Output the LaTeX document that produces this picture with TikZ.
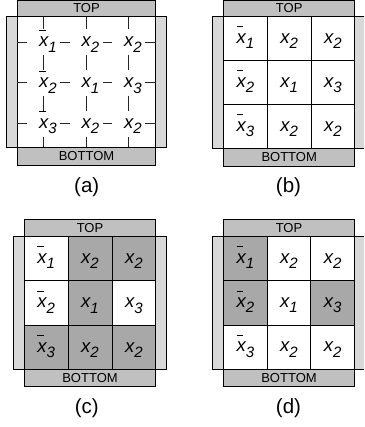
\documentclass[tikz,border=0pt]{standalone}
\usepackage{fontspec}
\setmainfont{Liberation Sans}
\definecolor{sidebar}{RGB}{216,216,216}
\definecolor{topbar}{RGB}{192,192,192}
\definecolor{shade}{RGB}{168,168,168}
\newcommand\subsz{\fontsize{15}{15}\selectfont}
\newcommand\vx[1]{{\itshape x}\smash{\raisebox{-5.3pt}{\subsz\itshape #1}}}
\newcommand\vxb[1]{\rlap{\smash{\raisebox{16.2pt}{\rule{6.5pt}{0.9pt}}}}\vx{#1}}
\newcommand\phsub[1]{\hphantom{\subsz\itshape #1}}
\newcommand\ctext[1]{\ifcase#1\or\vxb{1}\or\vx{2}\or\vx{2}\or\vxb{2}\or\vx{1}\or\vx{3}\or\vxb{3}\or\vx{2}\or\vx{2}\fi}
\newcommand\actext[1]{\ifcase#1\or\phsub{1}\vxb{1}\or\phsub{2}\vx{2}\or\phsub{2}\vx{2}\or\phsub{2}\vxb{2}\or\phsub{1}\vx{1}\or\phsub{3}\vx{3}\or\phsub{3}\vxb{3}\or\phsub{2}\vx{2}\or\phsub{2}\vx{2}\fi}
\tikzset{
  frameline/.style={draw=black, line width=0.8pt},
  sidebox/.style={frameline, fill=sidebar},
  tbbox/.style={frameline, fill=topbar},
  cell/.style={draw=black, line width=0.8pt, inner sep=0pt, outer sep=0pt, font=\fontsize{18.5}{21}\selectfont},
  vnode/.style={inner sep=0pt, outer sep=0pt, minimum width=32.6pt, minimum height=26pt, font=\fontsize{18.5}{21}\selectfont},
  tick/.style={draw=black!85, line width=0.8pt},
  bartext/.style={font=\fontsize{13}{15}\selectfont, inner sep=0pt},
  caption/.style={font=\fontsize{20.5}{23}\selectfont, inner sep=0pt}
}
\begin{document}
\begin{tikzpicture}[x=1pt,y=-1pt]
\useasboundingbox (0,0) rectangle (364,427);
\clip (0,0) rectangle (364,427);
% ---------- panel (a)
\path[sidebox] (6,16.7) rectangle (166.7,147);
\path[tbbox] (17.3,0) rectangle (155.7,165.3);
\path[frameline, fill=white] (17.3,16.7) rectangle (155.7,147);
\node[bartext] (aTop) at (86.5,8.4) {TOP};
\node[bartext] (aBot) at (86.5,156.2) {BOTTOM};
\foreach \rr in {1,2,3}{
  \foreach \cc in {1,2,3}{
    \node[vnode] (a\rr\cc) at ({43.7+(\cc-1)*42.5},{42+(\rr-1)*40.85}) {\actext{\numexpr(\rr-1)*3+\cc\relax}};
  }
  \coordinate (aL\rr) at (17.3,{42+(\rr-1)*40.85});
  \coordinate (aR\rr) at (155.7,{42+(\rr-1)*40.85});
  \coordinate (aT\rr) at ({43.7+(\rr-1)*42.5},16.7);
  \coordinate (aB\rr) at ({43.7+(\rr-1)*42.5},147);
}
\foreach \rr in {1,2,3}{
  \draw[tick] (aL\rr) -- (a\rr1) (a\rr1) -- (a\rr2) (a\rr2) -- (a\rr3) (a\rr3) -- (aR\rr);
  \draw[tick] (aT\rr) -- (a1\rr) (a1\rr) -- (a2\rr) (a2\rr) -- (a3\rr) (a3\rr) -- (aB\rr);
}
\node[caption] (capa) at (86.7,186.7) {(a)};
% ---------- panel (b)
\path[sidebox] (212.7,16.7) rectangle (366,148.3);
\path[tbbox] (223.7,0) rectangle (354.7,166);
\node[bartext] (bTop) at (289.2,8.4) {TOP};
\node[bartext] (bBot) at (289.2,157.2) {BOTTOM};
\foreach \rr in {1,2,3}{
  \foreach \cc in {1,2,3}{
    \node[cell, fill=white, minimum width=43.67pt, minimum height=43.87pt] (b\rr\cc) at ({223.7+(\cc-0.5)*43.67},{16.7+(\rr-0.5)*43.87}) {\ctext{\numexpr(\rr-1)*3+\cc\relax}};
  }
}
\node[caption] (capb) at (288.5,186.7) {(b)};
% ---------- panel (c)
\path[sidebox] (13,236.5) rectangle (166,369.5);
\path[tbbox] (24.3,219.3) rectangle (155.7,386.7);
\node[bartext] (cTop) at (90,227.9) {TOP};
\node[bartext] (cBot) at (90,378.1) {BOTTOM};
\foreach \rr/\cc/\f in {1/1/white,1/2/shade,1/3/shade,2/1/white,2/2/shade,2/3/white,3/1/shade,3/2/shade,3/3/shade}{
  \node[cell, fill=\f, minimum width=43.8pt, minimum height=44.33pt] (c\rr\cc) at ({24.3+(\cc-0.5)*43.8},{236.5+(\rr-0.5)*44.33}) {\ctext{\numexpr(\rr-1)*3+\cc\relax}};
}
\node[caption] (capc) at (86.7,408.3) {(c)};
% ---------- panel (d)
\path[sidebox] (212.7,236.5) rectangle (366,369.1);
\path[tbbox] (223.5,219.3) rectangle (354.5,386.7);
\node[bartext] (dTop) at (289,227.9) {TOP};
\node[bartext] (dBot) at (289,377.9) {BOTTOM};
\foreach \rr/\cc/\f in {1/1/shade,1/2/white,1/3/white,2/1/shade,2/2/white,2/3/shade,3/1/white,3/2/white,3/3/white}{
  \node[cell, fill=\f, minimum width=43.67pt, minimum height=44.2pt] (d\rr\cc) at ({223.5+(\cc-0.5)*43.67},{236.5+(\rr-0.5)*44.2}) {\ctext{\numexpr(\rr-1)*3+\cc\relax}};
}
\node[caption] (capd) at (288.5,408.3) {(d)};
\end{tikzpicture}
\end{document}
